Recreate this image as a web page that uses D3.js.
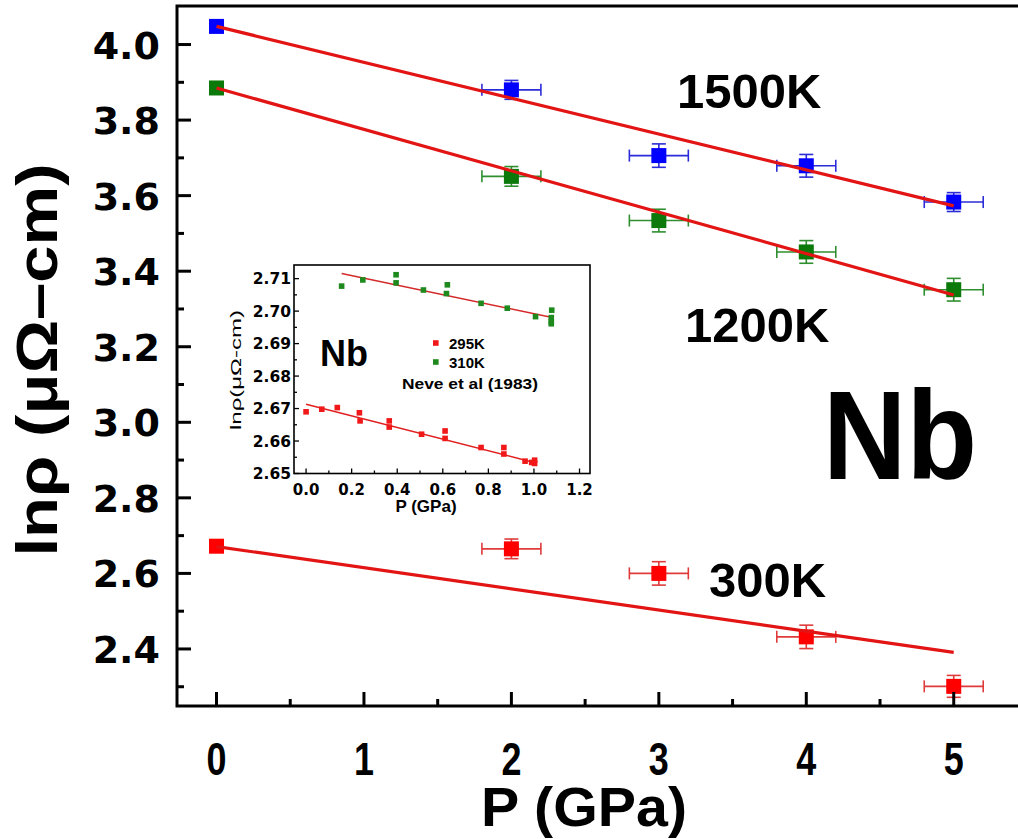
<!DOCTYPE html>
<html>
<head>
<meta charset="utf-8">
<script src="https://cdn.jsdelivr.net/npm/d3@7"></script>
<style>
  body { margin: 0; background: #fff; }
  text { font-family: "Liberation Sans", Arial, sans-serif; font-weight: bold; }
</style>
</head>
<body>
<script>
var width = 1018, height = 839;

// main panel: ln(rho) vs pressure
var pressure = [0, 2, 3, 4, 5];
var pressureErr = [0, 0.2, 0.2, 0.2, 0.2];
var rho1500 = [4.048, 3.880, 3.706, 3.679, 3.583];
var err1500 = [0, 0.025, 0.031, 0.030, 0.025];
var rho1200 = [3.885, 3.651, 3.534, 3.451, 3.351];
var err1200 = [0, 0.026, 0.030, 0.030, 0.030];
var rho300 = [2.672, 2.665, 2.600, 2.432, 2.301];
var err300 = [0, 0.026, 0.031, 0.031, 0.029];
var fitP = [0, 5];
var fit1500 = [4.048, 3.573];
var fit1200 = [3.885, 3.337];
var fit300 = [2.671, 2.391];
var seriesLabels = ["1500K", "1200K", "300K"];
var xTicks = [0, 1, 2, 3, 4, 5];
var xMinor = [0.5, 1.5, 2.5, 3.5, 4.5];
var yTicks = [2.4, 2.6, 2.8, 3.0, 3.2, 3.4, 3.6, 3.8, 4.0];
var yMinor = [2.3, 2.5, 2.7, 2.9, 3.1, 3.3, 3.5, 3.7, 3.9];

// inset: Neve et al (1983)
var p295 = [0.0, 0.069, 0.137, 0.234, 0.237, 0.365, 0.365, 0.507, 0.61, 0.61, 0.768, 0.868, 0.868, 0.961, 0.99, 1.003, 1.003];
var rho295 = [2.6690, 2.6698, 2.6703, 2.6687, 2.6662, 2.6662, 2.6643, 2.6621, 2.6631, 2.6608, 2.6580, 2.6580, 2.6560, 2.6538, 2.6534, 2.6541, 2.6531];
var p310 = [0.156, 0.249, 0.395, 0.395, 0.515, 0.62, 0.616, 0.768, 0.883, 1.007, 1.078, 1.076, 1.076, 1.076];
var rho310 = [2.7077, 2.7096, 2.7112, 2.7087, 2.7065, 2.7081, 2.7054, 2.7024, 2.7009, 2.6983, 2.7003, 2.6980, 2.6967, 2.6961];
var fit295P = [0, 1.0], fit295 = [2.6713, 2.6534];
var fit310P = [0.156, 1.075], fit310 = [2.7116, 2.6981];
var insetXTicks = [0, 0.2, 0.4, 0.6, 0.8, 1.0, 1.2];
var insetXMinor = [0.1, 0.3, 0.5, 0.7, 0.9, 1.1];
var insetYTicks = [2.65, 2.66, 2.67, 2.68, 2.69, 2.70, 2.71];
var insetYMinor = [2.655, 2.665, 2.675, 2.685, 2.695, 2.705];
var insetLegend = ["295K", "310K"];

var svg = d3.select("body").append("svg")
    .attr("width", width)
    .attr("height", height);

// ---------- main panel ----------
var mLeft = 177, mRight = 1022, mTop = 6, mBottom = 706;
var x = d3.scaleLinear().domain([-0.268, 5.463]).range([mLeft, mRight]);
var y = d3.scaleLinear().domain([2.249, 4.102]).range([mBottom, mTop]);

var series = [
  { rho: rho1500, err: err1500, fit: fit1500, fill: "#0000ff", bar: "#2b2bd9" },
  { rho: rho1200, err: err1200, fit: fit1200, fill: "#0b7a0b", bar: "#2f8f2f" },
  { rho: rho300,  err: err300,  fit: fit300,  fill: "#ff0000", bar: "#e03a3a" }
];

var g = svg.append("g");

series.forEach(function (s) {
  var bars = g.append("g").attr("stroke", s.bar).attr("stroke-width", 1.6).attr("fill", "none");
  pressure.forEach(function (p, i) {
    var ex = pressureErr[i], ey = s.err[i], v = s.rho[i];
    if (ex > 0) {
      bars.append("line").attr("x1", x(p - ex)).attr("x2", x(p + ex)).attr("y1", y(v)).attr("y2", y(v));
      [p - ex, p + ex].forEach(function (e) {
        bars.append("line").attr("x1", x(e)).attr("x2", x(e)).attr("y1", y(v) - 6).attr("y2", y(v) + 6);
      });
    }
    if (ey > 0) {
      bars.append("line").attr("x1", x(p)).attr("x2", x(p)).attr("y1", y(v - ey)).attr("y2", y(v + ey));
      [v - ey, v + ey].forEach(function (e) {
        bars.append("line").attr("x1", x(p) - 7).attr("x2", x(p) + 7).attr("y1", y(e)).attr("y2", y(e));
      });
    }
  });
  g.selectAll(null).data(pressure).enter().append("rect")
    .attr("x", function (p) { return x(p) - 7.5; })
    .attr("y", function (p, i) { return y(s.rho[i]) - 7.5; })
    .attr("width", 15).attr("height", 15)
    .attr("fill", s.fill);
});

var fitLine = d3.line()
    .x(function (d) { return x(d[0]); })
    .y(function (d) { return y(d[1]); });

series.forEach(function (s) {
  g.append("path")
    .attr("d", fitLine(d3.zip(fitP, s.fit)))
    .attr("stroke", "#e31414").attr("stroke-width", 3.2).attr("fill", "none");
});

// frame + inward ticks
var axis = svg.append("g").attr("stroke", "#000").attr("stroke-width", 3);
axis.append("path").attr("d", "M" + mRight + "," + mTop + "H" + mLeft + "V" + mBottom + "H" + mRight).attr("fill", "none");
xTicks.forEach(function (t) {
  axis.append("line").attr("x1", x(t)).attr("x2", x(t)).attr("y1", mBottom).attr("y2", mBottom - 14);
});
xMinor.forEach(function (t) {
  axis.append("line").attr("x1", x(t)).attr("x2", x(t)).attr("y1", mBottom).attr("y2", mBottom - 7);
});
yTicks.forEach(function (t) {
  axis.append("line").attr("y1", y(t)).attr("y2", y(t)).attr("x1", mLeft).attr("x2", mLeft + 14);
});
yMinor.forEach(function (t) {
  axis.append("line").attr("y1", y(t)).attr("y2", y(t)).attr("x1", mLeft).attr("x2", mLeft + 7);
});

svg.selectAll(".xlab").data(xTicks).enter().append("text")
    .attr("x", function (t) { return x(t); })
    .attr("y", 775)
    .attr("text-anchor", "middle")
    .attr("textLength", 20).attr("lengthAdjust", "spacingAndGlyphs")
    .style("font-size", "46px")
    .text(function (t) { return t; });

svg.selectAll(".ylab").data(yTicks).enter().append("text")
    .attr("x", 160)
    .attr("y", function (t) { return y(t) + 14; })
    .attr("text-anchor", "end")
    .style("font-family", "'DejaVu Sans', sans-serif")
    .style("font-size", "38px")
    .text(function (t) { return t.toFixed(1); });

svg.append("text")
    .attr("x", 584).attr("y", 826)
    .attr("text-anchor", "middle")
    .attr("textLength", 206).attr("lengthAdjust", "spacingAndGlyphs")
    .style("font-size", "55px")
    .text("P (GPa)");

svg.append("text")
    .attr("transform", "translate(57,360) rotate(-90)")
    .attr("text-anchor", "middle")
    .attr("textLength", 393).attr("lengthAdjust", "spacingAndGlyphs")
    .style("font-size", "58px")
    .text("ln\u03c1 (\u03bc\u03a9\u2013cm)");

// series annotations
var labelPos = [[677, 108], [685, 342], [709, 597]];
svg.selectAll(".slab").data(seriesLabels).enter().append("text")
    .attr("x", function (d, i) { return labelPos[i][0]; })
    .attr("y", function (d, i) { return labelPos[i][1]; })
    .style("font-size", "49px")
    .text(function (d) { return d; });

svg.append("text")
    .attr("x", 823).attr("y", 479)
    .attr("textLength", 154).attr("lengthAdjust", "spacingAndGlyphs")
    .style("font-size", "127px")
    .text("Nb");

// ---------- inset ----------
var iL = 294, iR = 590, iT = 265, iB = 473.5;
var ix = d3.scaleLinear().domain([-0.053, 1.246]).range([iL, iR]);
var iy = d3.scaleLinear().domain([2.65, 2.7142]).range([iB, iT]);

var inset = svg.append("g");
inset.append("rect").attr("x", iL).attr("y", iT).attr("width", iR - iL).attr("height", iB - iT)
    .attr("fill", "#fff").attr("stroke", "#000").attr("stroke-width", 1.6);

var iline = d3.line().x(function (d) { return ix(d[0]); }).y(function (d) { return iy(d[1]); });
inset.append("path").attr("d", iline(d3.zip(fit310P, fit310)))
    .attr("stroke", "#d42a2a").attr("stroke-width", 1.5).attr("fill", "none");
inset.append("path").attr("d", iline(d3.zip(fit295P, fit295)))
    .attr("stroke", "#e02020").attr("stroke-width", 1.5).attr("fill", "none");

inset.selectAll(".g310").data(d3.zip(p310, rho310)).enter().append("rect")
    .attr("x", function (d) { return ix(d[0]) - 2.8; })
    .attr("y", function (d) { return iy(d[1]) - 2.8; })
    .attr("width", 5.6).attr("height", 5.6).attr("fill", "#1e8a1e");
inset.selectAll(".r295").data(d3.zip(p295, rho295)).enter().append("rect")
    .attr("x", function (d) { return ix(d[0]) - 2.8; })
    .attr("y", function (d) { return iy(d[1]) - 2.8; })
    .attr("width", 5.6).attr("height", 5.6).attr("fill", "#f01818");

var iaxis = inset.append("g").attr("stroke", "#000").attr("stroke-width", 1.3);
insetXTicks.forEach(function (t) {
  iaxis.append("line").attr("x1", ix(t)).attr("x2", ix(t)).attr("y1", iB).attr("y2", iB - 5);
});
insetXMinor.forEach(function (t) {
  iaxis.append("line").attr("x1", ix(t)).attr("x2", ix(t)).attr("y1", iB).attr("y2", iB - 3);
});
insetYTicks.forEach(function (t) {
  iaxis.append("line").attr("y1", iy(t)).attr("y2", iy(t)).attr("x1", iL).attr("x2", iL + 5);
});
insetYMinor.forEach(function (t) {
  iaxis.append("line").attr("y1", iy(t)).attr("y2", iy(t)).attr("x1", iL).attr("x2", iL + 3);
});

inset.selectAll(".ixl").data(insetXTicks).enter().append("text")
    .attr("x", function (t) { return ix(t); })
    .attr("y", 495)
    .attr("text-anchor", "middle")
    .style("font-family", "'DejaVu Sans', sans-serif")
    .style("font-size", "15px")
    .text(function (t) { return t.toFixed(1); });

inset.selectAll(".iyl").data(insetYTicks).enter().append("text")
    .attr("x", 291)
    .attr("y", function (t) { return iy(t) + 5.5; })
    .attr("text-anchor", "end")
    .style("font-family", "'DejaVu Sans', sans-serif")
    .style("font-size", "15.5px")
    .text(function (t) { return t.toFixed(2); });

inset.append("text")
    .attr("x", 426).attr("y", 512)
    .attr("text-anchor", "middle")
    .style("font-size", "17px")
    .text("P (GPa)");

inset.append("text")
    .attr("transform", "translate(241,370) rotate(-90)")
    .attr("text-anchor", "middle")
    .attr("textLength", 120).attr("lengthAdjust", "spacingAndGlyphs")
    .style("font-size", "14px")
    .style("font-weight", "normal")
    .text("ln\u03c1(\u03bc\u03a9-cm)");

inset.append("text")
    .attr("x", 320).attr("y", 366)
    .style("font-size", "36px")
    .text("Nb");

var legColors = ["#f01818", "#1e8a1e"];
insetLegend.forEach(function (d, i) {
  var ly = 343 + i * 19;
  inset.append("rect").attr("x", 433).attr("y", ly - 2.8).attr("width", 5.6).attr("height", 5.6).attr("fill", legColors[i]);
  inset.append("text").attr("x", 449).attr("y", ly + 5.5).style("font-size", "15px").text(d);
});

inset.append("text")
    .attr("x", 402).attr("y", 389)
    .attr("textLength", 136).attr("lengthAdjust", "spacingAndGlyphs")
    .style("font-size", "14px")
    .text("Neve et al (1983)");
</script>
</body>
</html>
